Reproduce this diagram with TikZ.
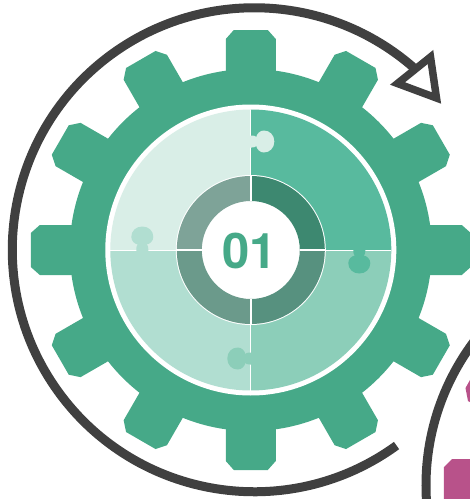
\documentclass[tikz,border=0pt]{standalone}
\usepackage{fontspec}
\setmainfont{TeX Gyre Heros}
\definecolor{geargreen}{HTML}{46A988}
\definecolor{pieceNE}{HTML}{58BA9E}
\definecolor{pieceSE}{HTML}{8CCEB9}
\definecolor{pieceSW}{HTML}{B1DED1}
\definecolor{pieceNW}{HTML}{D9EEE7}
\definecolor{ringNE}{HTML}{3D8870}
\definecolor{ringSE}{HTML}{57917F}
\definecolor{ringSW}{HTML}{6B9A8B}
\definecolor{ringNW}{HTML}{7EA398}
\definecolor{sweepgray}{HTML}{404040}
\definecolor{toothpink}{HTML}{B8528A}

\begin{document}
\begin{tikzpicture}[
  x=1pt, y=1pt,
  seam/.style={draw=white, line width=0.8pt},
  ringseam/.style={draw=white, line width=1.6pt},
  sweep/.style={draw=sweepgray, line width=9pt}
]
\useasboundingbox (-250.8,-249) rectangle (219.2,250);
\clip (-250.8,-249) rectangle (219.2,250);

\fill[geargreen] (0,0) circle (181);
\foreach \ang in {0,30,...,330} {
  \fill[geargreen, rotate=\ang] (-25,170) -- (-25,211) -- (-17,220) -- (17,220) -- (25,211) -- (25,170) -- cycle;
}

\fill[white] (0,0) circle (145.5);

\foreach \ang/\col in {90/pieceNE,0/pieceSE,-90/pieceSW,-180/pieceNW} {
  \fill[\col] (0,0) -- (\ang:140.5) arc (\ang:\ang-90:140.5) -- cycle;
}
\foreach \ang in {0,90,180,270} {
  \draw[seam, rotate=\ang] (0,0) -- (0,140.5);
}
\foreach \ang/\col in {0/pieceNW,-90/pieceNE,-180/pieceSE,-270/pieceSW} {
  \fill[\col, rotate=\ang] (-0.8,114.5) -- (1,114.5) .. controls (3,114.5) and (5,114) .. (5.5,113) .. controls (6,116) and (9,119.5) .. (13,119.5) .. controls (19,119.5) and (23.5,115) .. (23.5,108.5) .. controls (23.5,102) and (19,97.5) .. (13,97.5) .. controls (9,97.5) and (6,101) .. (5.5,104) .. controls (5,103) and (3,102.5) .. (1,102.5) -- (-0.8,102.5) -- cycle;
}

\fill[white] (0,0) circle (75);
\foreach \ang/\col in {90/ringNE,0/ringSE,-90/ringSW,-180/ringNW} {
  \fill[\col] (\ang:74) arc (\ang:\ang-90:74) -- (\ang-90:49) arc (\ang-90:\ang:49) -- cycle;
}
\foreach \ang in {0,90,180,270} {
  \draw[ringseam, rotate=\ang] (0,49) -- (0,75);
}

\node[inner sep=0pt, text=geargreen, font=\fontsize{49}{49}\selectfont\bfseries] (num) at (-1,-1) {01};

\coordinate (tipa) at (146.7,166.5);
\coordinate (tipb) at (179.7,193);
\coordinate (tipc) at (185.7,152);
\draw[sweep] ([shift={(3.5,0.25)}]-54:242) arc (-54:-311.3:242);
\draw[sweepgray, line width=7.5pt, fill=white] (tipa) -- (tipb) -- (tipc) -- cycle;

\draw[sweep] (415.2,-235.5) circle (240);
\fill[toothpink] (193.2,-249) -- (193.2,-217) -- (201.2,-209) -- (219.2,-209) -- (219.2,-249) -- cycle;
\fill[toothpink] (219.2,-130) -- (214.7,-138) -- (217.2,-151) -- (219.2,-152) -- cycle;
\end{tikzpicture}
\end{document}
